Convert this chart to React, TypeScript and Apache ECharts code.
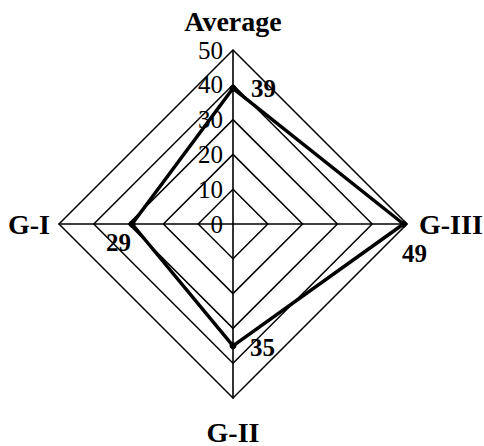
import React, { useEffect, useRef } from "react";
import * as echarts from "echarts";

const indicatorNames = ["Average", "G-I", "G-II", "G-III"];
const indicatorMax = 50;
const splitCount = 5;
const scores = [39, 29, 35, 49];

// per-indicator styling (style only)
const nameGaps = [15, 9, 20, 12];
const labelPlacement = [
  { position: "right", offset: [13, 0] },
  { position: "left", offset: [4, 18] },
  { position: "right", offset: [12, 2] },
  { position: "bottom", offset: [11, 12] },
];

const serif = "'Liberation Serif', 'DejaVu Serif', serif";

export default function App() {
  const ref = useRef<HTMLDivElement>(null);
  useEffect(() => {
    document.body.style.margin = "0";
    const chart = echarts.init(ref.current!, null, { renderer: "svg" });
    const labelItems = scores.map((v, k) => ({
      value: scores,
      symbol: "circle",
      symbolSize: 0.01,
      lineStyle: { opacity: 0 },
      itemStyle: { color: "rgba(0,0,0,0)" },
      label: {
        show: true,
        opacity: 1,
        position: labelPlacement[k].position,
        offset: labelPlacement[k].offset,
        distance: 5,
        color: "#000",
        fontFamily: serif,
        fontWeight: "bold",
        fontSize: 25,
        formatter: (p: any) => {
          const val = Array.isArray(p.value) ? null : p.value;
          return val === scores[k] ? String(val) : "";
        },
      },
    }));
    chart.setOption({
      animation: false,
      radar: {
        center: [233, 224],
        radius: 174,
        startAngle: 90,
        shape: "polygon",
        splitNumber: splitCount,
        nameGap: 12,
        axisName: {
          color: "#000",
          fontFamily: serif,
          fontWeight: "bold",
          fontSize: 28,
        },
        indicator: indicatorNames.map((n, i) =>
          i === 0
            ? {
                name: n,
                min: 0,
                max: indicatorMax,
                nameGap: nameGaps[i],
                axisLabel: {
                  show: true,
                  color: "#000",
                  fontFamily: serif,
                  fontSize: 25,
                  margin: 10,
                },
              }
            : { name: n, min: 0, max: indicatorMax, nameGap: nameGaps[i] }
        ),
        axisLine: { show: true, lineStyle: { color: "#000", width: 1.6 } },
        axisTick: { show: false },
        axisLabel: { show: false },
        splitLine: { show: true, lineStyle: { color: "#000", width: 1.5 } },
        splitArea: { show: false },
      },
      series: [
        {
          type: "radar",
          silent: true,
          data: [
            {
              value: scores,
              symbol: "circle",
              symbolSize: 7,
              itemStyle: { color: "#000" },
              lineStyle: { color: "#000", width: 3.5 },
              label: { show: false },
            },
            ...labelItems,
          ],
        },
      ],
    });
    return () => chart.dispose();
  }, []);
  return (
    <div
      ref={ref}
      style={{ position: "absolute", left: 0, top: 0, width: 484, height: 446, background: "#fff" }}
    />
  );
}
